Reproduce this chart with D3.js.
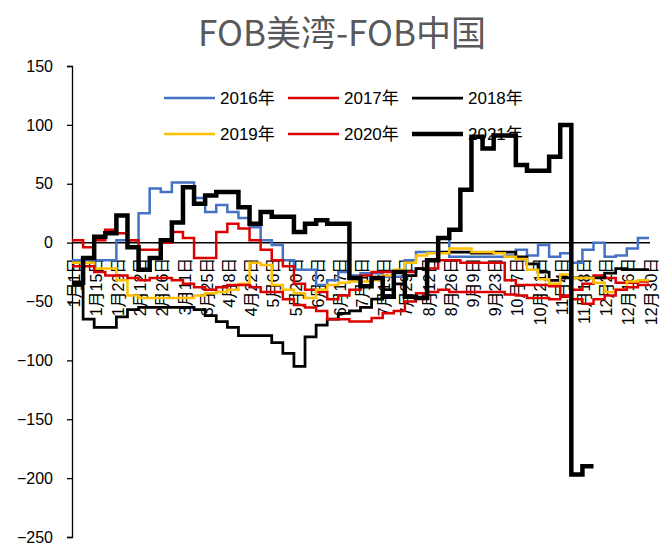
<!DOCTYPE html>
<html>
<head>
<meta charset="utf-8">
<script src="https://cdn.jsdelivr.net/npm/d3@7"></script>
<style>
  body { margin: 0; background: #fff; }
  svg { display: block; }
  text { font-family: "Liberation Sans", Arial, "Noto Sans CJK SC", sans-serif; }
</style>
</head>
<body>
<svg id="chart"></svg>
<script>
// tick labels on the x axis, one every two weeks
let dateLabels = ['1月1日', '1月15日', '1月29日', '2月12日', '2月26日', '3月11日', '3月25日',
  '4月8日', '4月22日', '5月6日', '5月20日', '6月3日', '6月17日', '7月1日', '7月15日',
  '7月29日', '8月12日', '8月26日', '9月9日', '9月23日', '10月7日', '10月21日', '11月4日',
  '11月18日', '12月2日', '12月16日', '12月30日']

let yTicks = [150, 100, 50, 0, -50, -100, -150, -200, -250]

// weekly values
let s2016 = [-15, -15, -15, -15, 2, 2, 25, 46, 43, 51, 51, 38, 26, 32, 26, 21, 13, 2, -2, -15,
  -23, -23, -36, -32, -25, -28, -26, -26, -29, -29, -15, -8, -8, 4, -12, -12, -12, -12, -12, -11,
  -6, -11, -2, -12, -9, -17, -6, 0, -12, -11, -5, 4]
let s2017 = [2, -4, 2, 11, 8, 2, -6, -6, 0, 9, 4, -13, -13, 9, 16, 12, 2, -6, -15, -20,
  -35, -40, -42, -48, -45, -40, -28, -25, -25, -25, -25, -22, -22, -15, -15, -17, -17, -17, -17, -32,
  -36, -36, -36, -37, -45, -40, -35, -28, -30, -34, -34, -33]
let s2018 = [-36, -65, -72, -72, -63, -57, -55, -55, -55, -55, -55, -57, -62, -67, -72, -79, -79, -79, -85, -94,
  -105, -80, -70, -65, -60, -58, -55, -48, -40, -35, -28, -22, -15, -8, -8, -8, -9, -9, -8, -8,
  -12, -18, -25, -32, -30, -30, -30, -30, -26, -22, -23, -23]
let s2019 = [-17, -17, -22, -22, -32, -45, -47, -47, -47, -47, -47, -45, -43, -42, -40, -35, -17, -19, -36, -40,
  -43, -47, -40, -36, -34, -33, -33, -32, -28, -23, -17, -11, -9, -9, -5, -5, -8, -8, -9, -12,
  -14, -23, -31, -35, -27, -30, -30, -34, -42, -40, -33, -32]
let s2020 = [-20, -20, -25, -28, -28, -30, -32, -30, -30, -32, -35, -38, -40, -38, -36, -36, -38, -42, -42, -48,
  -53, -55, -58, -65, -65, -67, -67, -64, -60, -58, -50, -43, -42, -40, -42, -42, -42, -42, -42, -44,
  -45, -47, -47, -48, -46, -48, -52, -48, -45, -40, -38, -36]
let s2021 = [-34, -13, 5, 8, 23, -4, -23, -13, 2, 17, 47, 33, 40, 43, 43, 30, 16, 26, 22, 22,
  9, 16, 19, 16, 16, -30, -37, -30, -46, -25, -46, -47, -15, 4, 11, 45, 90, 80, 91, 91,
  66, 61, 61, 73, 100, -197, -190]

let series = [
  { name: '2016年', values: s2016, color: '#4472C4', width: 2.5 },
  { name: '2017年', values: s2017, color: '#DD0000', width: 2.5 },
  { name: '2018年', values: s2018, color: '#000000', width: 2.75 },
  { name: '2019年', values: s2019, color: '#FFC000', width: 2.5 },
  { name: '2020年', values: s2020, color: '#DD0000', width: 2.5 },
  { name: '2021年', values: s2021, color: '#000000', width: 4.5 }
]

let width = 665
let height = 546

let svg = d3.select('#chart')
  .attr('width', width)
  .attr('height', height)

let x = d3.scaleLinear().domain([0, 364]).range([72, 649])
let y = d3.scaleLinear().domain([-250, 150]).range([537, 66])

// title
svg.append('text')
  .attr('x', 342)
  .attr('y', 46)
  .attr('text-anchor', 'middle')
  .style('font-family', '"Noto Sans CJK SC", "Noto Sans", sans-serif')
  .style('font-size', '35px')
  .attr('fill', '#595959')
  .text('FOB美湾-FOB中国')

// legend (sits under the lines)
let legend = svg.append('g')
series.forEach(function (s, i) {
  let col = i % 3
  let row = Math.floor(i / 3)
  let lx = 164 + col * 124
  let ly = 98 + row * 36
  legend.append('line')
    .attr('x1', lx).attr('x2', lx + 51)
    .attr('y1', ly).attr('y2', ly)
    .attr('stroke', s.color)
    .attr('stroke-width', s.width)
  legend.append('text')
    .attr('x', lx + 56)
    .attr('y', ly + 6)
    .style('font-size', '17px')
    .attr('fill', '#000')
    .text(s.name)
})

// y axis
let yAxis = d3.axisLeft(y)
  .tickValues(yTicks)
  .tickSize(5)
  .tickSizeOuter(5)
  .tickPadding(14)

let yg = svg.append('g')
  .attr('transform', 'translate(72,0)')
  .call(yAxis)
yg.selectAll('path, line').attr('stroke', '#000').attr('stroke-width', 1.3)
yg.selectAll('text')
  .style('font-size', '16px')
  .style('font-family', '"Liberation Sans", Arial, sans-serif')
  .attr('fill', '#000')

// zero line
svg.append('line')
  .attr('x1', x(0)).attr('x2', 650)
  .attr('y1', y(0)).attr('y2', y(0))
  .attr('stroke', '#000')
  .attr('stroke-width', 1.5)

// x labels, rotated
svg.append('g')
  .selectAll('text')
  .data(dateLabels)
  .enter()
  .append('text')
  .attr('transform', function (d, i) {
    return 'translate(' + (x(i * 14) + 2) + ',' + (y(0) + 15) + ') rotate(-90)'
  })
  .attr('text-anchor', 'end')
  .attr('dy', '0.35em')
  .style('font-size', '16px')
  .attr('fill', '#000')
  .text(function (d) { return d })

// lines
let line = d3.line()
  .x(function (d, i) { return x(i * 7) })
  .y(function (d) { return y(d) })
  .curve(d3.curveStepAfter)

svg.append('g')
  .selectAll('path')
  .data(series)
  .enter()
  .append('path')
  .attr('d', function (s) {
    let v = s.values.concat([s.values[s.values.length - 1]])
    return line(v)
  })
  .attr('fill', 'none')
  .attr('stroke', function (s) { return s.color })
  .attr('stroke-width', function (s) { return s.width })
  .attr('stroke-linejoin', 'miter')
</script>
</body>
</html>
